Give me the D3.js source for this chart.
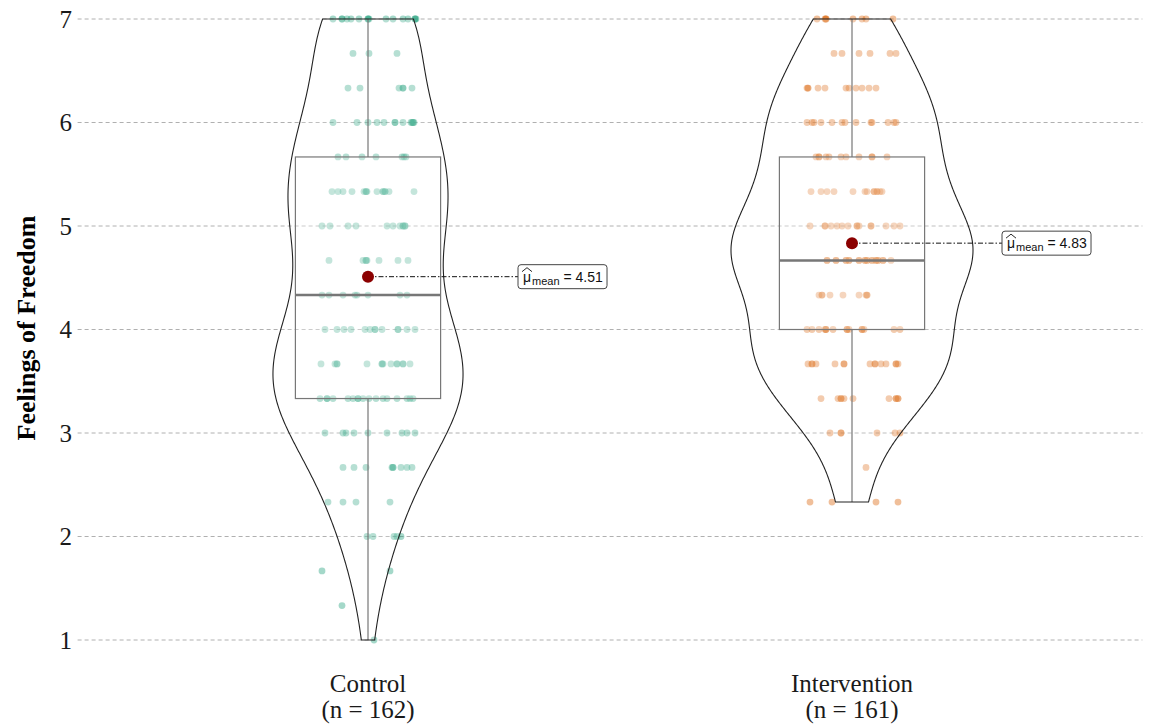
<!DOCTYPE html>
<html><head><meta charset="utf-8">
<script src="https://cdn.jsdelivr.net/npm/d3@7"></script>
<style>body{margin:0;background:#fff;} svg{display:block}</style>
</head><body><svg id="chart" width="1153" height="726"></svg>
<script>
// ---------------- data ----------------
const groups = ["Control", "Intervention"];
const yTicks = [1, 2, 3, 4, 5, 6, 7];
const yTitle = "Feelings of Freedom";
const pointColors = ["#1b9e77", "#d95f02"];

// response levels (scale steps of 1/3)
const controlLevels = [7, 6.667, 6.333, 6, 5.667, 5.333, 5, 4.667, 4.333, 4, 3.667, 3.333, 3, 2.667, 2.333, 2, 1.667, 1.333, 1];
// jitter offsets (one entry per respondent), per level
const controlJitter = [
  [-35,-26,-21,-17,-9,0,1,18,25,35,40,47,48,-26,0,47],
  [-15,1,29],
  [-20,-8,31,35,44,35],
  [-35,-11,0,9,16,27,35,43,45,46,27,44,45],
  [-30,-22,-6,8,34,36,38],
  [-36,-30,-25,-16,-4,-2,-1,9,15,17,21,46,-2,15,17],
  [-46,-38,-20,-12,19,25,32,35,37,35,37],
  [-39,-5,-2,-1,11,30,40,-2],
  [-46,-39,-25,-13,-11,0,32,39],
  [-43,-31,-24,-17,-3,2,7,14,30,39,47,7,30],
  [-47,-33,-31,-1,14,15,23,29,35,42,-31,14,29,35],
  [-48,-41,-35,-20,-15,-10,-5,1,8,15,19,29,39,42,45,-41,-10],
  [-43,-25,-22,-14,0,19,34,39,47],
  [-25,-14,-2,24,25,33,39,44,25],
  [-40,-25,-12,22],
  [-1,5,26,29,33],
  [-46,22],
  [-26],
  [6]
];
const interventionLevels = [7, 6.667, 6.333, 6, 5.667, 5.333, 5, 4.667, 4.333, 4, 3.667, 3.333, 3, 2.667, 2.333];
const interventionJitter = [
  [-35,-27,-26,1,10,14,41,-26],
  [-18,-10,7,18,38,44],
  [-45,-44,-34,-27,-6,-3,4,10,17,24,-44],
  [-45,-40,-38,-31,-20,-10,-7,4,19,20,36,42,44],
  [-36,-33,-26,-23,-11,-6,7,20,35,-33,20],
  [-41,-31,-25,-18,1,13,15,22,25,28,30,22,25],
  [-42,-27,-21,-15,-10,-4,5,7,19,34,42,48,-27,5,19],
  [-25,-16,-6,-3,7,13,15,20,24,26,31,39,-25,-16,-6,-3,7,13,15,20,24,26,31],
  [-33,-30,-22,-9,7,14,15,-30,15],
  [-45,-40,-33,-27,-26,-19,-5,-3,10,12,42,48,-26,-5,10],
  [-44,-40,-36,-17,-8,18,23,29,34,44,46,-40,23,44,-8],
  [-31,-14,-11,-8,1,37,44,46,-11,44,46],
  [-22,-11,25,43,48,-11],
  [14],
  [-42,-20,24,46]
];

// ---------------- build ----------------
function expand(levels, jit, g) {
  const out = [];
  levels.forEach((v, i) => jit[i].forEach(j => out.push({group: g, value: v, jitter: j})));
  return out;
}
const data = [
  expand(controlLevels, controlJitter, groups[0]),
  expand(interventionLevels, interventionJitter, groups[1])
];

const svg = d3.select("#chart");
const x = d3.scalePoint().domain(groups).range([77.6, 1142.4]).padding(0.6);
const step = x.step();
const y = d3.scaleLinear().domain([1, 7]).range([640, 19]);
const jx = d3.scaleLinear().domain([-50, 50]).range([-50 * step / 484, 50 * step / 484]);
const serif = "'Liberation Serif', 'Times New Roman', serif";

// grid
svg.append("g").selectAll("line").data(yTicks).join("line")
  .attr("x1", 77.6).attr("x2", 1142.4)
  .attr("y1", d => y(d)).attr("y2", d => y(d))
  .attr("stroke", "#b0b0b0").attr("stroke-width", 1).attr("stroke-dasharray", "4,3");

// y axis
const yAxis = d3.axisLeft(y).tickValues(yTicks).tickFormat(d3.format("d")).tickSize(0).tickPadding(0);
const ya = svg.append("g").attr("transform", "translate(72,0)").call(yAxis);
ya.select(".domain").remove();
ya.selectAll("text").attr("font-family", serif)
  .attr("font-size", 25).attr("fill", "#1a1a1a").attr("dy", "0.33em");

svg.append("text").attr("transform", "translate(35,328) rotate(-90)")
  .attr("text-anchor", "middle").attr("font-family", serif)
  .attr("font-size", 26).attr("font-weight", "bold").attr("fill", "#000").text(yTitle);

// x labels
const xl = svg.append("g");
groups.forEach((g, i) => {
  xl.append("text").attr("text-anchor", "middle").attr("x", x(g)).attr("y", 692)
    .attr("font-family", serif).attr("font-size", 25).attr("fill", "#1a1a1a").text(g);
  xl.append("text").attr("text-anchor", "middle").attr("x", x(g)).attr("y", 718)
    .attr("font-family", serif).attr("font-size", 25).attr("fill", "#1a1a1a")
    .text(`(n = ${data[i].length})`);
});

// stats
function stats(vals) {
  const s = vals.slice().sort(d3.ascending);
  const q1 = d3.quantile(s, 0.25), med = d3.quantile(s, 0.5), q3 = d3.quantile(s, 0.75);
  const iqr = q3 - q1;
  const lo = d3.min(s.filter(v => v >= q1 - 1.5 * iqr));
  const hi = d3.max(s.filter(v => v <= q3 + 1.5 * iqr));
  const sd = d3.deviation(s);
  const bw = 0.9 * Math.min(sd, iqr / 1.34) * Math.pow(s.length, -0.2);
  const mn = s[0], mx = s[s.length - 1];
  const dens = d3.range(512).map(k => {
    const t = mn + (mx - mn) * k / 511;
    let sum = 0;
    for (const v of s) { const u = (t - v) / bw; sum += Math.exp(-0.5 * u * u); }
    return {y: t, d: sum / (s.length * bw * Math.sqrt(2 * Math.PI))};
  });
  return {q1, med, q3, lo, hi, mean: d3.mean(s), dens};
}
const st = data.map(d => stats(d.map(p => p.value)));
const maxD = d3.max(st, s => d3.max(s.dens, p => p.d));
const vw = d3.scaleLinear().domain([0, maxD]).range([0, 0.25 * step]);

// points
data.forEach((pts, i) => {
  svg.append("g").selectAll("circle").data(pts).join("circle")
    .attr("cx", d => x(d.group) + jx(d.jitter)).attr("cy", d => y(d.value))
    .attr("r", 3.4).attr("fill", pointColors[i]).attr("fill-opacity", 0.4);
});

// boxes
st.forEach((s, i) => {
  const cx = x(groups[i]);
  const g = svg.append("g");
  const bh = 0.15 * step;
  g.append("line").attr("x1", cx).attr("x2", cx).attr("y1", y(s.q3)).attr("y2", y(s.hi))
    .attr("stroke", "#555").attr("stroke-width", 1.2);
  g.append("line").attr("x1", cx).attr("x2", cx).attr("y1", y(s.q1)).attr("y2", y(s.lo))
    .attr("stroke", "#555").attr("stroke-width", 1.2);
  g.append("rect").attr("x", cx - bh).attr("width", 2 * bh)
    .attr("y", y(s.q3)).attr("height", y(s.q1) - y(s.q3))
    .attr("fill", "#fff").attr("fill-opacity", 0.2).attr("stroke", "#555").attr("stroke-width", 1.2);
  g.append("line").attr("x1", cx - bh).attr("x2", cx + bh).attr("y1", y(s.med)).attr("y2", y(s.med))
    .attr("stroke", "#555").attr("stroke-width", 2.4);
});

// violins
st.forEach((s, i) => {
  const cx = x(groups[i]);
  const left = s.dens.map(p => [cx - vw(p.d), y(p.y)]);
  const right = s.dens.slice().reverse().map(p => [cx + vw(p.d), y(p.y)]);
  svg.append("path").attr("d", d3.line()(left.concat(right)) + "Z")
    .attr("fill", "#fff").attr("fill-opacity", 0.2)
    .attr("stroke", "#222").attr("stroke-width", 1.1);
});

// means + labels
st.forEach((s, i) => {
  const cx = x(groups[i]);
  const my = y(s.mean);
  const lx = cx + 150;
  svg.append("line").attr("x1", cx).attr("x2", lx).attr("y1", my).attr("y2", my)
    .attr("stroke", "#111").attr("stroke-width", 1).attr("stroke-dasharray", "5,2,1.5,2");
  svg.append("circle").attr("cx", cx).attr("cy", my).attr("r", 6).attr("fill", "#8b0000");
  const lg = svg.append("g");
  const rect = lg.append("rect").attr("fill", "#fff").attr("stroke", "#444").attr("stroke-width", 1).attr("rx", 3);
  const t = lg.append("text").attr("x", lx + 5).attr("y", my + 5)
    .attr("font-family", "'Liberation Sans', Arial, sans-serif").attr("fill", "#111");
  t.append("tspan").attr("font-size", 14).text("μ");
  t.append("tspan").attr("font-size", 11).attr("dx", 1).attr("dy", 3).text("mean");
  t.append("tspan").attr("font-size", 14).attr("dy", -3).text(" = " + d3.format(".2f")(s.mean));
  // hat over mu
  lg.append("path").attr("d", `M${lx + 4},${my - 5} L${lx + 9},${my - 9} L${lx + 14},${my - 5}`)
    .attr("fill", "none").attr("stroke", "#111").attr("stroke-width", 0.9);
  const bb = t.node().getBBox();
  rect.attr("x", lx).attr("y", my - 12).attr("width", bb.x + bb.width - lx + 4).attr("height", 24);
});
</script></body></html>
